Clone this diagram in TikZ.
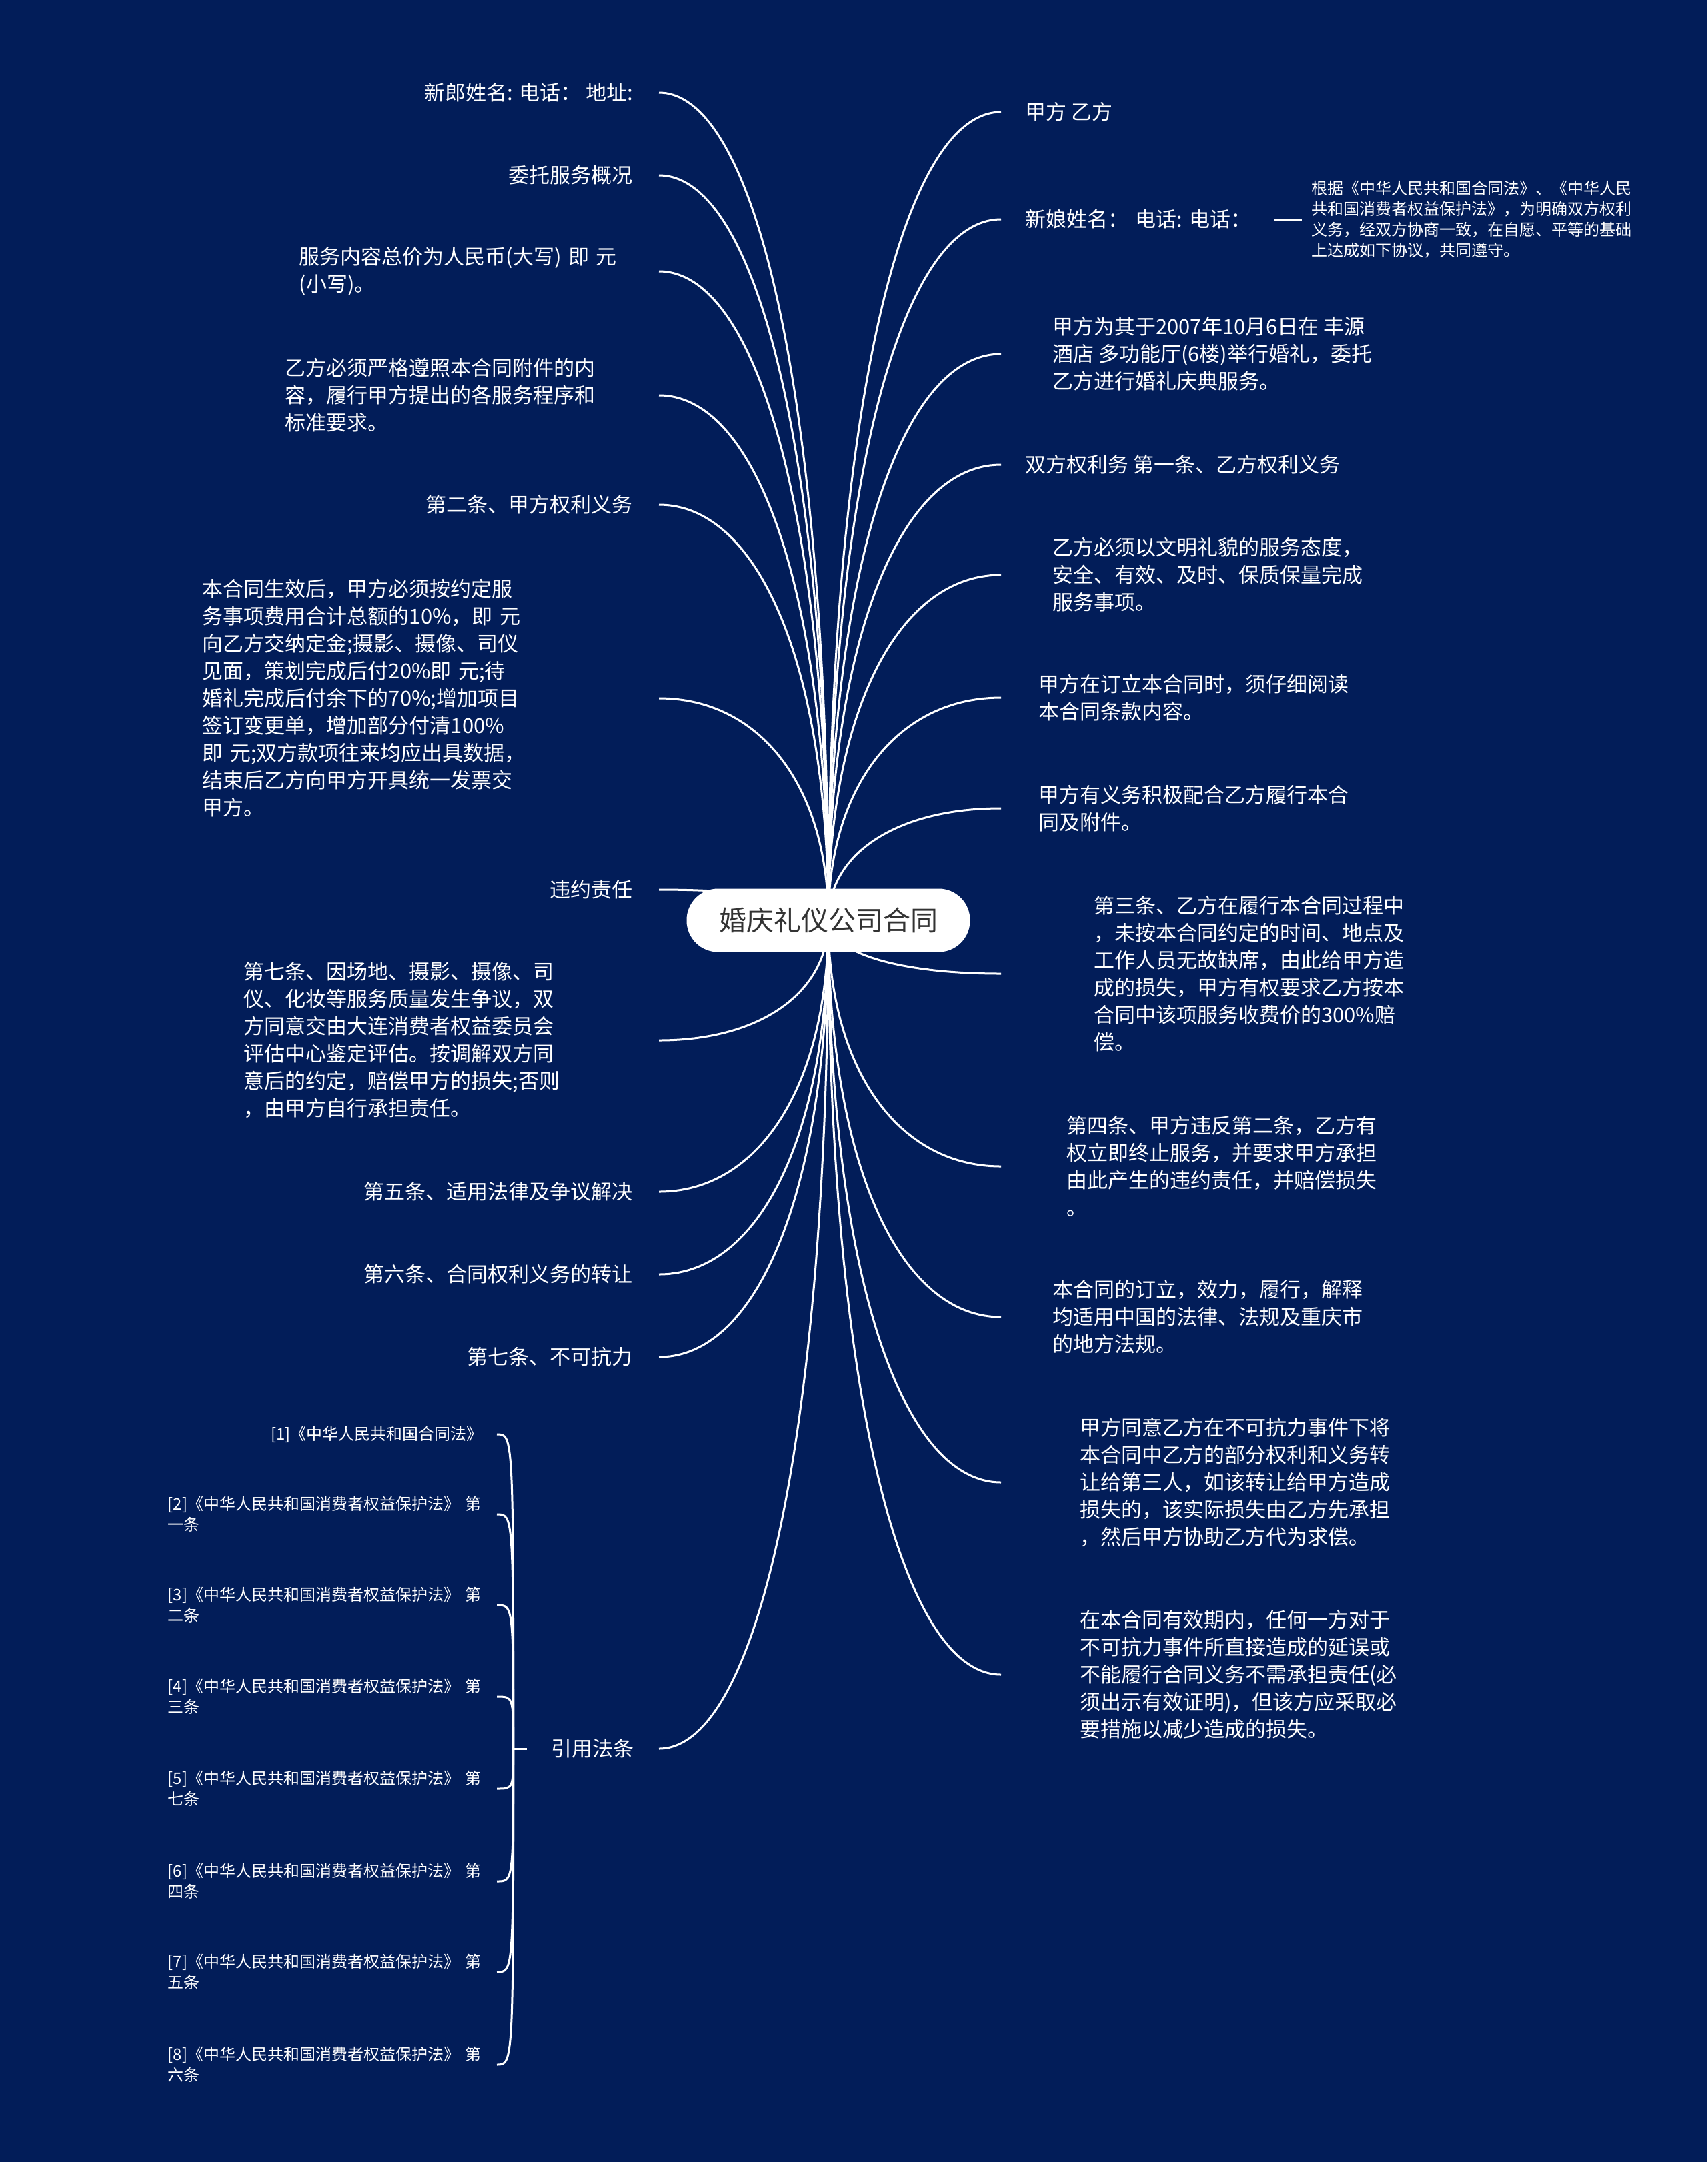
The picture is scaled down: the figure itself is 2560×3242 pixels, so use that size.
\documentclass[tikz,border=0pt]{standalone}
\usepackage{fontspec}
\setmainfont{Noto Sans CJK SC}
\usepackage{tikz}
\usetikzlibrary{positioning, calc}
\definecolor{mynavy}{RGB}{2,29,89}
\definecolor{mygray}{RGB}{51,51,51}
\pgfdeclarelayer{bg}
\pgfdeclarelayer{edges}
\pgfsetlayers{bg,edges,main}
\tikzset{
  txt/.style={text=white, font=\fontsize{31}{41}\selectfont},
  smalltxt/.style={text=white, font=\fontsize{24}{31}\selectfont},
  rootnode/.style={rectangle, fill=white, rounded corners=47pt,
    minimum width=425pt, minimum height=95pt, text=mygray,
    font=\fontsize{41}{50}\selectfont},
  lnode/.style={txt, anchor=east, inner xsep=39pt},
  lblock/.style={txt, anchor=east, inner xsep=0pt, align=left, text width=#1},
  rnode/.style={txt, anchor=west, inner xsep=#1, align=left},
  refnode/.style={smalltxt, anchor=east, inner xsep=0pt, align=left, text width=493pt},
  line/.style={draw=white, line width=3pt}
}

\begin{document}
\begin{tikzpicture}[x=1pt, y=-1pt]
  \begin{pgfonlayer}{bg}
    \fill[mynavy] (0,0) rectangle (2560,3242);
  \end{pgfonlayer}

  % Root
  \node[rootnode] (root) at (1242,1380) {婚庆礼仪公司合同};

  % Left branches
  \node[lnode] (l1) at (988,139) {新郎姓名: 电话： 地址:};
  \node[lnode] (l2) at (988,263) {委托服务概况};
  \node[lblock=539pt] (l3) at (988,407) {服务内容总价为人民币(大写) 即 元\\(小写)。};
  \node[lblock=560pt] (l4) at (988,593) {乙方必须严格遵照本合同附件的内\\容，履行甲方提出的各服务程序和\\标准要求。};
  \node[lnode] (l5) at (988,757) {第二条、甲方权利义务};
  \node[lblock=684pt] (l6) at (988,1047) {本合同生效后，甲方必须按约定服\\务事项费用合计总额的10\%，即 元\\向乙方交纳定金;摄影、摄像、司仪\\见面，策划完成后付20\%即 元;待\\婚礼完成后付余下的70\%;增加项目\\签订变更单，增加部分付清100\%\\即 元;双方款项往来均应出具数据，\\结束后乙方向甲方开具统一发票交\\甲方。};
  \node[lnode] (l7) at (988,1334) {违约责任};
  \node[lblock=622pt] (l8) at (988,1560) {第七条、因场地、摄影、摄像、司\\仪、化妆等服务质量发生争议，双\\方同意交由大连消费者权益委员会\\评估中心鉴定评估。按调解双方同\\意后的约定，赔偿甲方的损失;否则\\，由甲方自行承担责任。};
  \node[lnode] (l9) at (988,1787) {第五条、适用法律及争议解决};
  \node[lnode] (l10) at (988,1911) {第六条、合同权利义务的转让};
  \node[lnode] (l11) at (988,2035) {第七条、不可抗力};
  \node[lnode, inner xsep=37pt] (l12) at (988,2622) {引用法条};

  % Right branches
  \node[rnode=36pt] (r1) at (1501,168) {甲方 乙方};
  \node[rnode=36pt, text width=338pt] (r2) at (1501,329) {新娘姓名：~电话:~电话：};
  \node[smalltxt, anchor=west, inner xsep=14pt, align=left] (sub) at (1952,329) {根据《中华人民共和国合同法》、《中华人民\\共和国消费者权益保护法》，为明确双方权利\\义务，经双方协商一致，在自愿、平等的基础\\上达成如下协议，共同遵守。};
  \node[rnode=77pt] (r3) at (1501,531) {甲方为其于2007年10月6日在 丰源\\酒店 多功能厅(6楼)举行婚礼，委托\\乙方进行婚礼庆典服务。};
  \node[rnode=36pt] (r4) at (1501,697) {双方权利务 第一条、乙方权利义务};
  \node[rnode=77pt] (r5) at (1501,862) {乙方必须以文明礼貌的服务态度，\\安全、有效、及时、保质保量完成\\服务事项。};
  \node[rnode=56pt] (r6) at (1501,1046) {甲方在订立本合同时，须仔细阅读\\本合同条款内容。};
  \node[rnode=56pt] (r7) at (1501,1212) {甲方有义务积极配合乙方履行本合\\同及附件。};
  \node[rnode=139pt] (r8) at (1501,1460) {第三条、乙方在履行本合同过程中\\，未按本合同约定的时间、地点及\\工作人员无故缺席，由此给甲方造\\成的损失，甲方有权要求乙方按本\\合同中该项服务收费价的300\%赔\\偿。};
  \node[rnode=98pt] (r9) at (1501,1749) {第四条、甲方违反第二条，乙方有\\权立即终止服务，并要求甲方承担\\由此产生的违约责任，并赔偿损失\\。};
  \node[rnode=77pt] (r10) at (1501,1975) {本合同的订立，效力，履行，解释\\均适用中国的法律、法规及重庆市\\的地方法规。};
  \node[rnode=118pt] (r11) at (1501,2223) {甲方同意乙方在不可抗力事件下将\\本合同中乙方的部分权利和义务转\\让给第三人，如该转让给甲方造成\\损失的，该实际损失由乙方先承担\\，然后甲方协助乙方代为求偿。};
  \node[rnode=118pt] (r12) at (1501,2511) {在本合同有效期内，任何一方对于\\不可抗力事件所直接造成的延误或\\不能履行合同义务不需承担责任(必\\须出示有效证明)，但该方应采取必\\要措施以减少造成的损失。};

  % Cited laws
  \node[smalltxt, anchor=east, inner xsep=21pt] (ref1) at (745,2151) {[1]《中华人民共和国合同法》};
  \foreach \i/\y/\t in {2/2271/一, 3/2407/二, 4/2544/三, 5/2682/七, 6/2821/四, 7/2957/五, 8/3096/六} {
    \node[refnode] (ref\i) at (745,\y) {[\i]《中华人民共和国消费者权益保护法》~第\\\t{}条};
  }
  \coordinate (fork) at ([xshift=-20pt]l12.west);

  % Connectors
  \begin{pgfonlayer}{edges}
    \foreach \n in {l1,l2,l3,l4,l5,l6,l7,l8,l9,l10,l11,l12} {
      \draw[line] (root.center) .. controls ($(root.center)!0.6!(root.center |- \n.east)$)
        and ($(\n.east)!0.6!(root.center |- \n.east)$) .. (\n.east);
    }
    \foreach \n in {r1,r2,r3,r4,r5,r6,r7,r8,r9,r10,r11,r12} {
      \draw[line] (root.center) .. controls ($(root.center)!0.6!(root.center |- \n.west)$)
        and ($(\n.west)!0.6!(root.center |- \n.west)$) .. (\n.west);
    }
    \draw[line] (r2.east) -- (sub.west);
    \draw[line] (l12.west) -- (fork);
    \foreach \i in {1,...,8}
      \draw[line] (fork) .. controls (fork |- ref\i.east) .. (ref\i.east);
  \end{pgfonlayer}
\end{tikzpicture}
\end{document}
